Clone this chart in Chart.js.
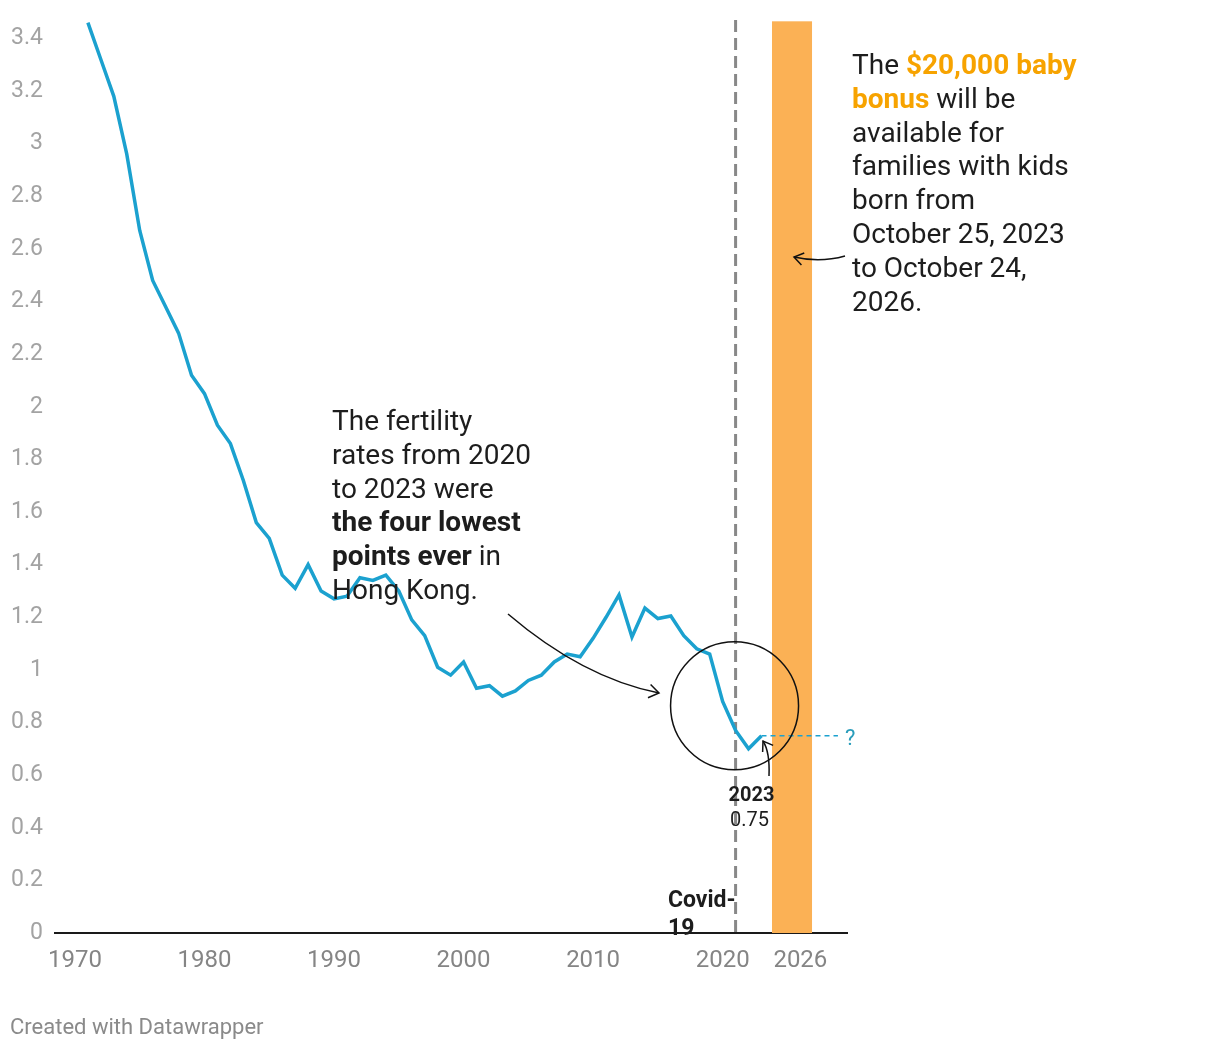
<!DOCTYPE html>
<html><head><meta charset="utf-8">
<script src="https://cdn.jsdelivr.net/npm/chart.js@4.4.0/dist/chart.umd.min.js"></script>
<style>html,body{margin:0;padding:0;background:#fff;}#wrap{position:relative;width:1220px;height:1048px;}</style>
</head><body><div id="wrap"><canvas id="c"></canvas></div>
<script>
const years = [1971,1972,1973,1974,1975,1976,1977,1978,1979,1980,1981,1982,1983,1984,1985,1986,1987,1988,1989,1990,1991,1992,1993,1994,1995,1996,1997,1998,1999,2000,2001,2002,2003,2004,2005,2006,2007,2008,2009,2010,2011,2012,2013,2014,2015,2016,2017,2018,2019,2020,2021,2022,2023];
const fertility = [3.46,3.32,3.18,2.96,2.67,2.48,2.38,2.28,2.12,2.05,1.93,1.86,1.72,1.56,1.50,1.36,1.31,1.40,1.30,1.27,1.28,1.35,1.34,1.36,1.30,1.19,1.13,1.01,0.98,1.03,0.93,0.94,0.90,0.92,0.96,0.98,1.03,1.06,1.05,1.12,1.20,1.285,1.125,1.235,1.195,1.205,1.13,1.08,1.06,0.88,0.77,0.70,0.75];
const projectionYears = [2023, 2028.9];
const projectionValues = [0.75, 0.75];
const xTickValues = [1970,1980,1990,2000,2010,2020,2026];
const yTickValues = [0,0.2,0.4,0.6,0.8,1,1.2,1.4,1.6,1.8,2,2.2,2.4,2.6,2.8,3,3.2,3.4];
const covidYear = 2021;
const bonusStart = 2023.81;
const bonusEnd = 2026.9;
const lastYear = 2023, lastValue = 0.75;

const FONT = 'Roboto, "Noto Sans", sans-serif';
const INK = '#1d1d1d';
const BLUE = '#1ba1cf';

function rich(ctx, x, y, segs, size) {
  let cx = x;
  for (const s of segs) {
    ctx.font = (s.b ? '700 ' : '400 ') + size + 'px ' + FONT;
    ctx.fillStyle = s.c || INK;
    ctx.fillText(s.t, cx, y);
    cx += ctx.measureText(s.t).width;
  }
}
function arrowHead(ctx, tx, ty, ang, len) {
  ctx.beginPath();
  ctx.moveTo(tx + len*Math.cos(ang+0.6), ty + len*Math.sin(ang+0.6));
  ctx.lineTo(tx, ty);
  ctx.lineTo(tx + len*Math.cos(ang-0.6), ty + len*Math.sin(ang-0.6));
  ctx.stroke();
}

const bgPlugin = {
  id: 'bg',
  beforeDatasetsDraw(chart) {
    const {ctx, scales:{x, y}} = chart;
    ctx.save();
    // bonus band
    ctx.fillStyle = '#fbb155';
    const x0 = x.getPixelForValue(bonusStart), x1 = x.getPixelForValue(bonusEnd);
    const top = y.getPixelForValue(3.465);
    ctx.fillRect(x0, top, x1 - x0, y.getPixelForValue(0) - top);
    // covid line
    const cx = x.getPixelForValue(covidYear);
    ctx.strokeStyle = '#888';
    ctx.lineWidth = 3;
    ctx.setLineDash([12, 6]);
    ctx.beginPath();
    ctx.moveTo(cx, chart.chartArea.top);
    ctx.lineTo(cx, y.getPixelForValue(0));
    ctx.stroke();
    ctx.restore();
  },
  afterDraw(chart) {
    const {ctx, scales:{x, y}} = chart;
    ctx.save();
    ctx.textBaseline = 'alphabetic';
    ctx.textAlign = 'left';
    // fertility note
    const fs = 28, lh = 33.8;
    let by = 430;
    rich(ctx, 332, by, [{t:'The fertility'}], fs); by += lh;
    rich(ctx, 332, by, [{t:'rates from 2020'}], fs); by += lh;
    rich(ctx, 332, by, [{t:'to 2023 were'}], fs); by += lh;
    rich(ctx, 332, by, [{t:'the four lowest', b:true}], fs); by += lh;
    rich(ctx, 332, by, [{t:'points ever', b:true},{t:' in'}], fs); by += lh;
    rich(ctx, 332, by, [{t:'Hong Kong.'}], fs);
    // bonus note
    const OR = '#f7a300';
    by = 74;
    rich(ctx, 852, by, [{t:'The '},{t:'$20,000 baby', b:true, c:OR}], fs); by += lh;
    rich(ctx, 852, by, [{t:'bonus', b:true, c:OR},{t:' will be'}], fs); by += lh;
    rich(ctx, 852, by, [{t:'available for'}], fs); by += lh;
    rich(ctx, 852, by, [{t:'families with kids'}], fs); by += lh;
    rich(ctx, 852, by, [{t:'born from'}], fs); by += lh;
    rich(ctx, 852, by, [{t:'October 25, 2023'}], fs); by += lh;
    rich(ctx, 852, by, [{t:'to October 24,'}], fs); by += lh;
    rich(ctx, 852, by, [{t:'2026.'}], fs);
    // covid label
    rich(ctx, 668, 907, [{t:'Covid-', b:true}], 23);
    rich(ctx, 668, 935, [{t:'19', b:true}], 23);
    // 2023 label
    const lx = x.getPixelForValue(lastYear);
    ctx.textAlign = 'center';
    ctx.font = '700 20px ' + FONT; ctx.fillStyle = INK;
    ctx.fillText('2023', lx - 10, 801);
    ctx.font = '400 20px ' + FONT;
    ctx.fillText(String(lastValue), lx - 12, 826);
    // question mark
    ctx.textAlign = 'left';
    ctx.font = '400 22px ' + FONT; ctx.fillStyle = '#2a9dbb';
    ctx.fillText('?', 845, 745);
    // circle
    ctx.strokeStyle = '#111';
    ctx.lineWidth = 1.5;
    ctx.beginPath();
    ctx.arc(x.getPixelForValue(2020.92), y.getPixelForValue(0.864), 64, 0, Math.PI*2);
    ctx.stroke();
    // curved arrow to circle
    ctx.beginPath();
    ctx.moveTo(508, 614);
    ctx.quadraticCurveTo(583, 678, 659, 693);
    ctx.stroke();
    arrowHead(ctx, 659, 693, Math.atan2(693-678, 659-583) + Math.PI, 12);
    // small arrow to last point
    ctx.beginPath();
    ctx.moveTo(769, 776);
    ctx.quadraticCurveTo(770, 752, 763, 741);
    ctx.stroke();
    arrowHead(ctx, 763, 741, Math.atan2(741-752, 763-770) + Math.PI, 11);
    // arrow to band
    ctx.beginPath();
    ctx.moveTo(845, 256);
    ctx.quadraticCurveTo(820, 263, 794, 257);
    ctx.stroke();
    arrowHead(ctx, 794, 257, Math.atan2(257-263, 794-820) + Math.PI, 11);
    // footer
    ctx.font = '400 22px ' + FONT; ctx.fillStyle = '#8a8a8a';
    ctx.fillText('Created with Datawrapper', 10, 1034);
    ctx.restore();
  }
};

new Chart(document.getElementById('c'), {
  type: 'line',
  data: {
    datasets: [
      { data: years.map((yr,i)=>({x:yr, y:fertility[i]})), borderColor: BLUE, borderWidth: 3.5, pointRadius: 0, tension: 0, fill: false, borderJoinStyle: 'miter' },
      { data: projectionYears.map((yr,i)=>({x:yr, y:projectionValues[i]})), borderColor: BLUE, borderWidth: 1.5, borderDash: [5,4], pointRadius: 0, tension: 0, fill: false }
    ]
  },
  options: {
    responsive: true, maintainAspectRatio: false, animation: false,
    layout: { padding: { left: 0, right: 373, top: 20, bottom: 65 } },
    plugins: { legend: {display:false}, tooltip: {enabled:false} },
    scales: {
      x: {
        type: 'linear', min: 1968.46, max: 2029.6,
        afterBuildTicks: s => { s.ticks = xTickValues.map(v=>({value:v})); },
        afterFit: s => { s.height = 50; s.paddingLeft = 0; s.paddingRight = 0; },
        grid: { display: false, drawTicks: false },
        border: { display: true, color: '#1a1a1a', width: 2 },
        ticks: { padding: 14, color: '#858585', font: { family: FONT, size: 24 }, maxRotation: 0, autoSkip: false, callback: v => String(v) }
      },
      y: {
        min: 0, max: 3.47,
        afterBuildTicks: s => { s.ticks = yTickValues.map(v=>({value:v})); },
        afterFit: s => { s.width = 55; s.paddingTop = 0; s.paddingBottom = 0; },
        grid: { display: false, drawTicks: false },
        border: { display: false },
        ticks: { padding: 12, color: '#a3a3a3', font: { family: FONT, size: 23 }, callback: v => String(Math.round(v*10)/10) }
      }
    }
  },
  plugins: [bgPlugin]
});
</script></body></html>
